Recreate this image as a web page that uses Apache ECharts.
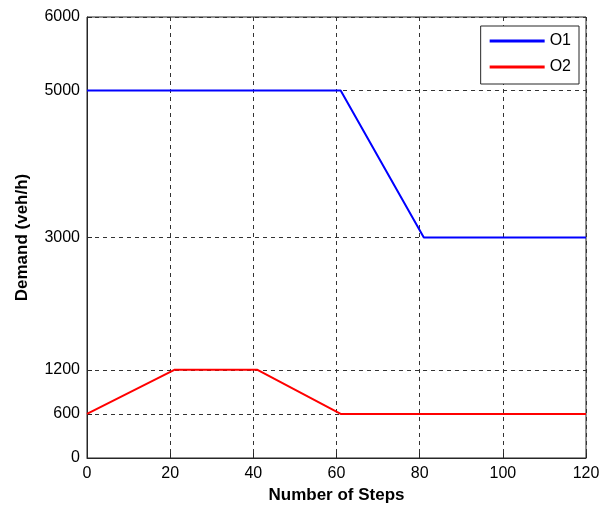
<!DOCTYPE html>
<html>
<head>
<meta charset="utf-8">
<script src="https://cdn.jsdelivr.net/npm/echarts@6/dist/echarts.min.js"></script>
<style>
html,body{margin:0;padding:0;background:#fff;}
#main{width:603px;height:508px;}
</style>
</head>
<body>
<div id="main"></div>
<script>
// demand profiles (step, veh/h)
var o1Steps = [0, 61, 81, 120];
var o1Values = [5000, 5000, 3000, 3000];
var o2Steps = [0, 21, 41, 61, 120];
var o2Values = [600, 1200, 1200, 600, 600];
var xTicks = [0, 20, 40, 60, 80, 100, 120];
var yTicks = [0, 600, 1200, 3000, 5000, 6000];

function pairs(xs, ys){
    var out = [];
    for(var i=0;i<xs.length;i++){ out.push([xs[i], ys[i]]); }
    return out;
}

var font = 'Arial, "Liberation Sans", sans-serif';
var chart = echarts.init(document.getElementById('main'));
chart.setOption({
    animation:false,
    backgroundColor:'#fff',
    grid:{left:87, top:17, width:499, height:441, containLabel:false, outerBoundsMode:'none',
        show:true, borderColor:'#262626', borderWidth:1},
    legend:{
        right:24, top:26, orient:'vertical',
        itemWidth:55, itemHeight:3, itemGap:10,
        padding:[7,8,9,9],
        borderColor:'#262626', borderWidth:1, backgroundColor:'#fff', borderRadius:0,
        textStyle:{fontFamily:font, fontSize:16, color:'#000'},
        data:[{name:'O1', icon:'rect'}, {name:'O2', icon:'rect'}]
    },
    xAxis:{
        type:'value', min:0, max:120, interval:20,
        name:'Number of Steps', nameLocation:'middle', nameGap:29,
        nameTextStyle:{fontFamily:font, fontSize:17, fontWeight:'bold', color:'#000'},
        axisLine:{lineStyle:{color:'#262626'}},
        axisTick:{show:true, inside:true, length:5, customValues:xTicks, lineStyle:{color:'#262626'}},
        axisLabel:{fontFamily:font, fontSize:16, color:'#000', margin:8, customValues:xTicks,
            formatter:function(v){ return String(v); }},
        splitLine:{show:true, lineStyle:{color:'#333', type:[4,4], width:1}}
    },
    yAxis:{
        type:'value', min:0, max:6000,
        name:'Demand (veh/h)', nameLocation:'middle', nameGap:56,
        nameTextStyle:{fontFamily:font, fontSize:17, fontWeight:'bold', color:'#000'},
        axisLine:{show:true, lineStyle:{color:'#262626'}},
        axisTick:{show:true, inside:true, length:5, customValues:yTicks, lineStyle:{color:'#262626'}},
        axisLabel:{fontFamily:font, fontSize:16, color:'#000', margin:7, customValues:yTicks,
            formatter:function(v){ return String(v); }},
        splitLine:{show:true, lineStyle:{color:'#333', type:[4,4], width:1}}
    },
    series:[
        {name:'O1', type:'line', showSymbol:false, color:'#0000ff', lineStyle:{width:2}, data:pairs(o1Steps, o1Values)},
        {name:'O2', type:'line', showSymbol:false, color:'#ff0000', lineStyle:{width:2}, data:pairs(o2Steps, o2Values)}
    ]
});
</script>
</body>
</html>
